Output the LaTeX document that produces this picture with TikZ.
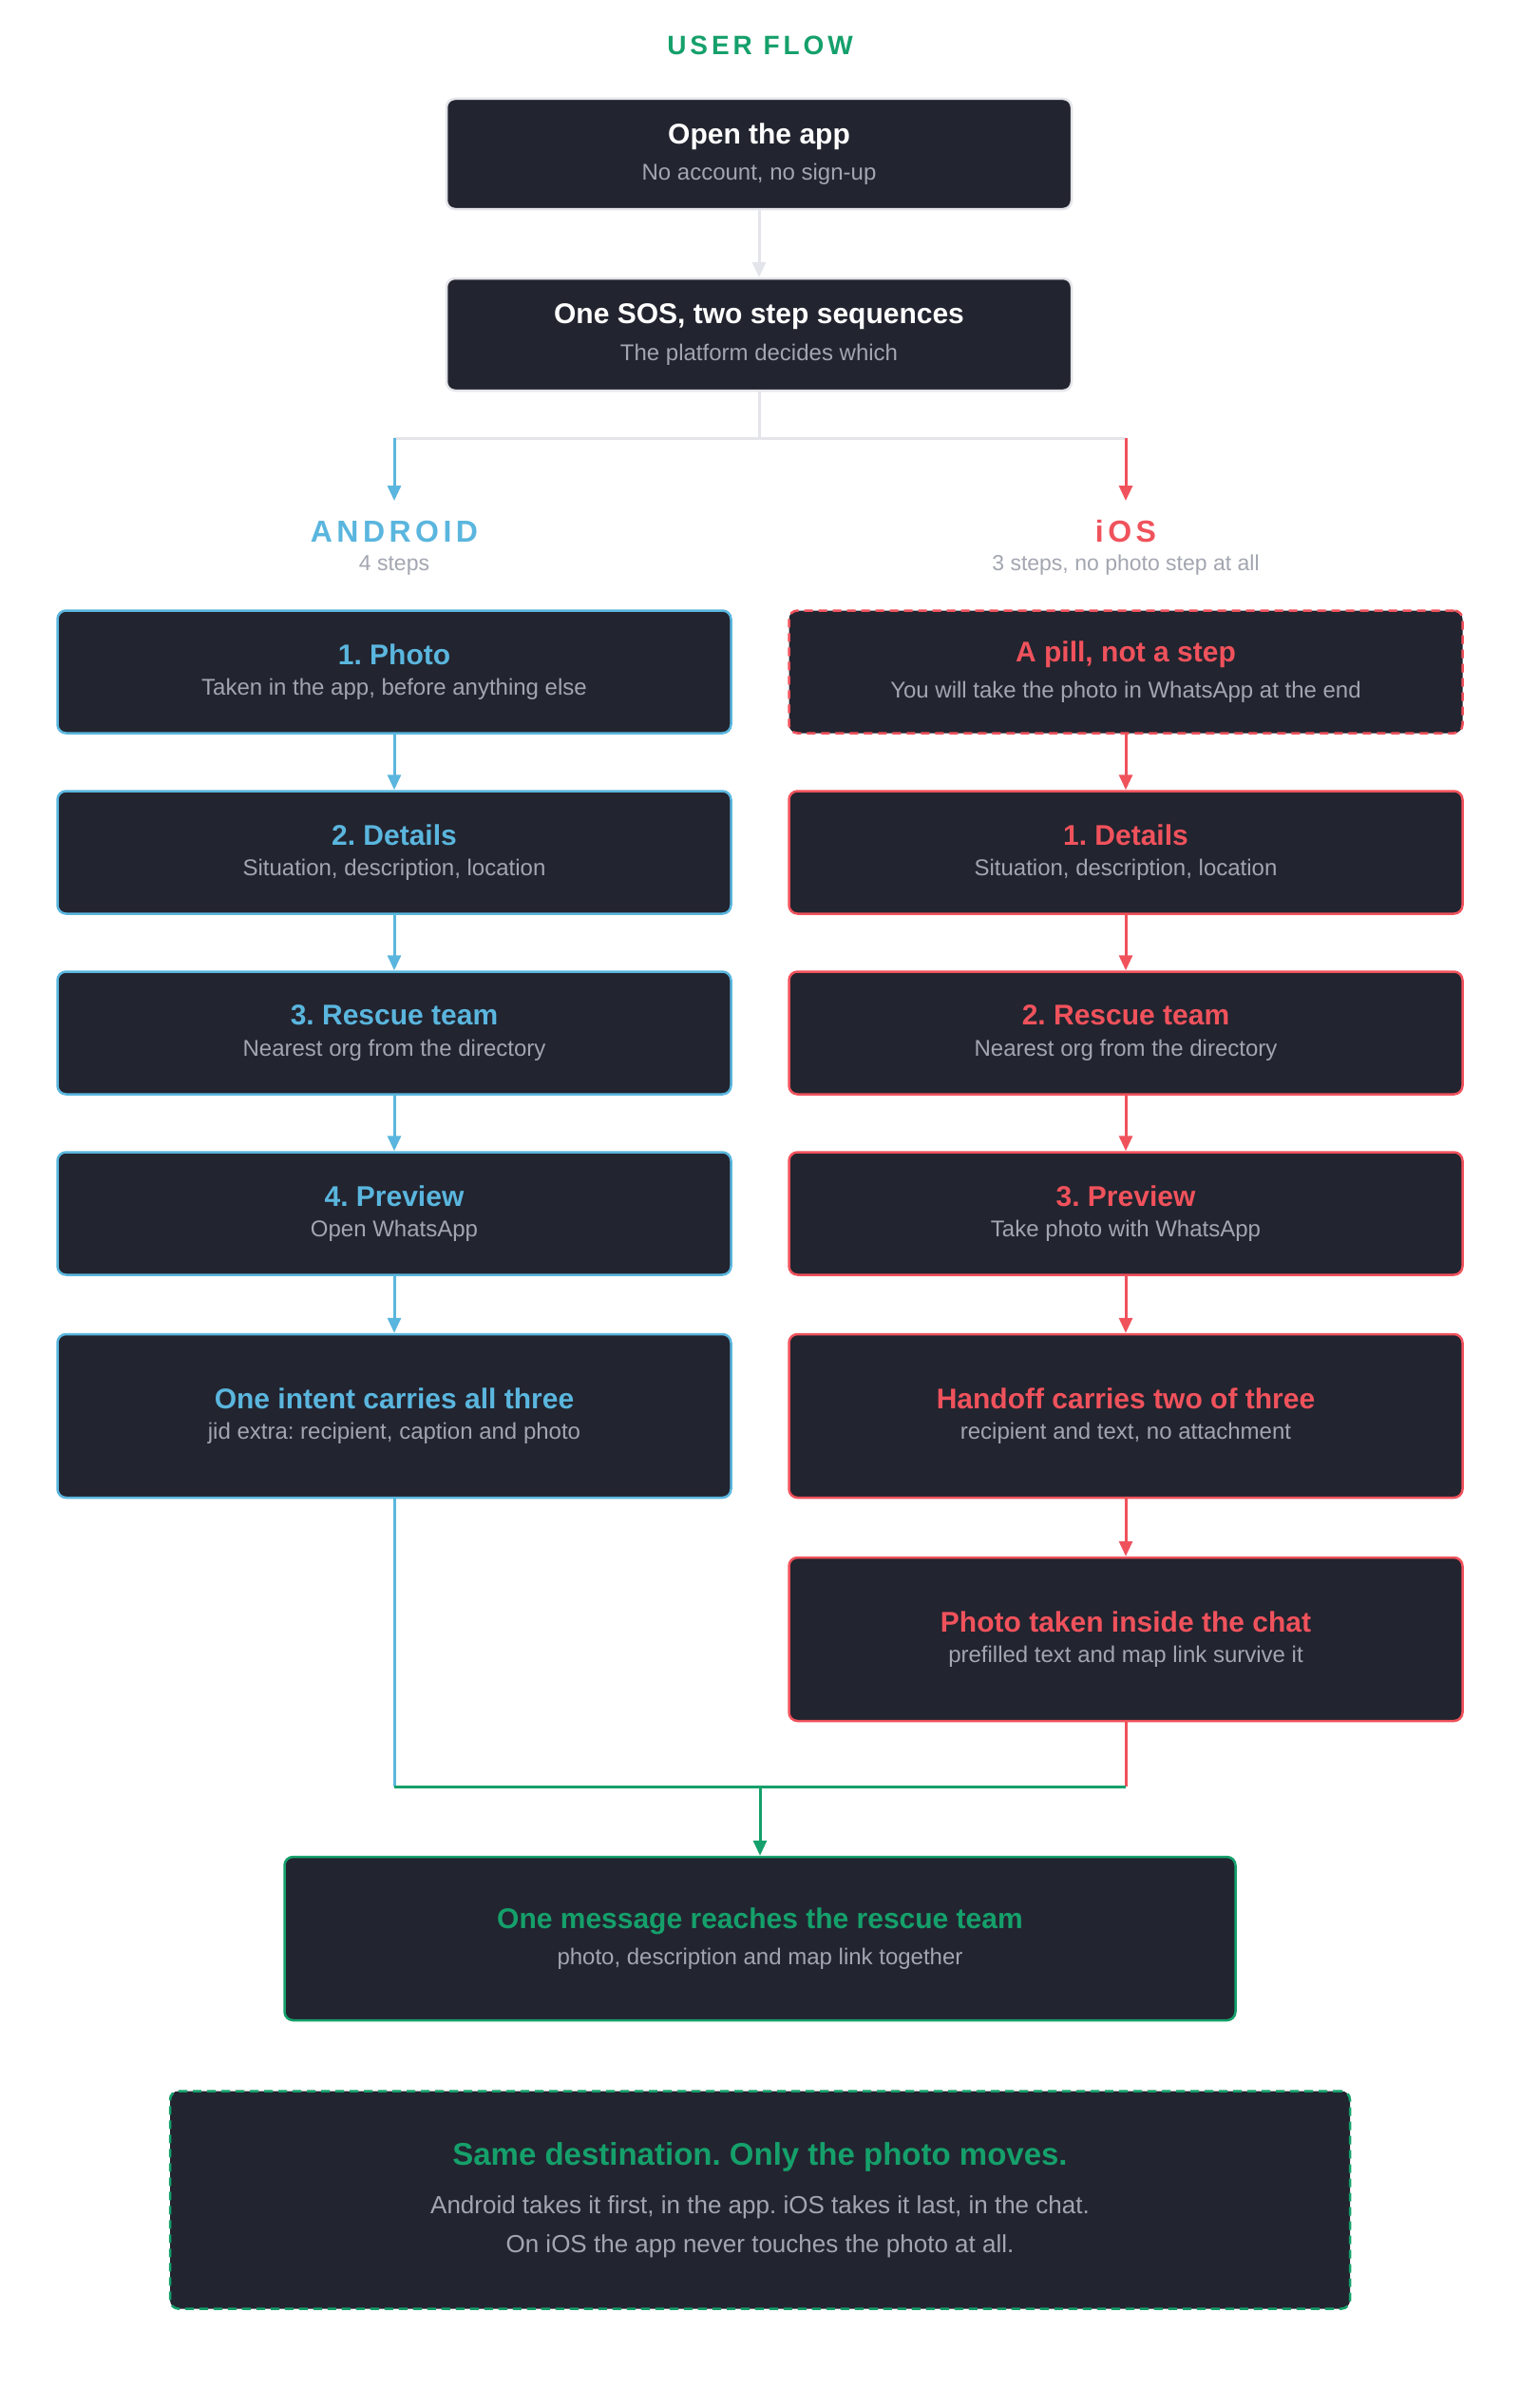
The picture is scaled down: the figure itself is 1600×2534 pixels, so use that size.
\documentclass[tikz,border=0pt]{standalone}
\usepackage{fontspec}
\setmainfont{Liberation Sans}
\usetikzlibrary{positioning,arrows.meta}
\frenchspacing
\definecolor{boxbg}{HTML}{22242F}
\definecolor{andblue}{HTML}{5AB6DE}
\definecolor{iosred}{HTML}{F0525C}
\definecolor{flowgreen}{HTML}{15A06B}
\definecolor{subgray}{HTML}{A3A6B0}
\definecolor{linegray}{HTML}{E4E5EA}
\newcommand{\spaced}[1]{{\addfontfeatures{LetterSpace=14}#1}}
\newcommand{\boxtext}[3]{{\fontsize{30}{36}\selectfont\bfseries\color{#1}#2}\\[14pt]{\fontsize{24}{28}\selectfont\color{subgray}#3}}
\tikzset{
  step/.style={draw=#1, line width=2.5pt, fill=boxbg, rounded corners=9pt, align=center,
    minimum width=709pt, minimum height=129pt, inner sep=0pt},
  pill/.style={dash pattern=on 9pt off 6pt},
  flow/.style={draw=#1, line width=3pt, -{Triangle[width=14pt,length=16pt]}},
}
\begin{document}
\begin{tikzpicture}[x=1pt,y=-1pt]
    \useasboundingbox[fill=white] (0,0) rectangle (1600,2534);
    \node (title) at (800,48) {\fontsize{28}{32}\selectfont\bfseries\color{flowgreen}\spaced{USER FLOW}};
    % top
    \node[step=linegray, minimum width=658pt, minimum height=116pt] (open) at (799,162)
        {\boxtext{white}{Open the app}{No account, no sign-up}};
    \node[step=linegray, minimum width=658pt, minimum height=118pt] (sos) at (799,352)
        {\boxtext{white}{One SOS, two step sequences}{The platform decides which}};
    \draw[flow=linegray] (open) -- (sos);
    \coordinate (split) at (799,461);
    \coordinate (aTop) at (415,461);
    \coordinate (iTop) at (1185,461);
    \draw[linegray, line width=3pt] (sos.south) -- (split);
    \draw[linegray, line width=3pt] (aTop) -- (iTop);
    \node (andlbl) at (415,559) {\fontsize{32}{36}\selectfont\bfseries\color{andblue}\spaced{ANDROID}};
    \node (andsub) at (415,595) {\fontsize{23}{26}\selectfont\color{subgray}4 steps};
    \node (ioslbl) at (1185,559) {\fontsize{32}{36}\selectfont\bfseries\color{iosred}\spaced{iOS}};
    \node (iossub) at (1185,595) {\fontsize{23}{26}\selectfont\color{subgray}3 steps, no photo step at all};
    \draw[flow=andblue] (aTop) -- (415,527);
    \draw[flow=iosred] (iTop) -- (1185,527);
    % android column
    \node[step=andblue] (a1) at (415,707) {\boxtext{andblue}{1. Photo}{Taken in the app, before anything else}};
    \node[step=andblue] (a2) at (415,897) {\boxtext{andblue}{2. Details}{Situation, description, location}};
    \node[step=andblue] (a3) at (415,1087) {\boxtext{andblue}{3. Rescue team}{Nearest org from the directory}};
    \node[step=andblue] (a4) at (415,1277) {\boxtext{andblue}{4. Preview}{Open WhatsApp}};
    \node[step=andblue, minimum height=172pt] (a5) at (415,1490) {\boxtext{andblue}{One intent carries all three}{jid extra: recipient, caption and photo}};
    % ios column
    \node[step=iosred, pill] (i0) at (1185,707) {\boxtext{iosred}{A pill, not a step}{You will take the photo in WhatsApp at the end}};
    \node[step=iosred] (i1) at (1185,897) {\boxtext{iosred}{1. Details}{Situation, description, location}};
    \node[step=iosred] (i2) at (1185,1087) {\boxtext{iosred}{2. Rescue team}{Nearest org from the directory}};
    \node[step=iosred] (i3) at (1185,1277) {\boxtext{iosred}{3. Preview}{Take photo with WhatsApp}};
    \node[step=iosred, minimum height=172pt] (i4) at (1185,1490) {\boxtext{iosred}{Handoff carries two of three}{recipient and text, no attachment}};
    \node[step=iosred, minimum height=172pt] (i5) at (1185,1725) {\boxtext{iosred}{Photo taken inside the chat}{prefilled text and map link survive it}};
    \foreach \a/\b in {a1/a2,a2/a3,a3/a4,a4/a5}
        \draw[flow=andblue] (\a) -- (\b);
    \foreach \a/\b in {i0/i1,i1/i2,i2/i3,i3/i4,i4/i5}
        \draw[flow=iosred] (\a) -- (\b);
    % merge
    \node[step=flowgreen, minimum width=1001pt, minimum height=172pt] (msg) at (800,2040)
        {\boxtext{flowgreen}{One message reaches the rescue team}{photo, description and map link together}};
    \coordinate (aEnd) at (415,1880);
    \coordinate (iEnd) at (1185,1880);
    \coordinate (join) at (800,1880);
    \draw[andblue, line width=3pt] (a5) -- (aEnd);
    \draw[iosred, line width=3pt] (i5) -- (iEnd);
    \draw[flowgreen, line width=3pt] (aEnd) -- (iEnd);
    \draw[flow=flowgreen] (join) -- (msg);
    % note
    \node[step=flowgreen, pill, minimum width=1242pt, minimum height=229pt] (note) at (800,2315)
        {{\fontsize{33}{38}\selectfont\bfseries\color{flowgreen}Same destination. Only the photo moves.}\\[24pt]
         {\fontsize{26}{30}\selectfont\color{subgray}Android takes it first, in the app. iOS takes it last, in the chat.}\\[16pt]
         {\fontsize{26}{30}\selectfont\color{subgray}On iOS the app never touches the photo at all.}};
\end{tikzpicture}
\end{document}
